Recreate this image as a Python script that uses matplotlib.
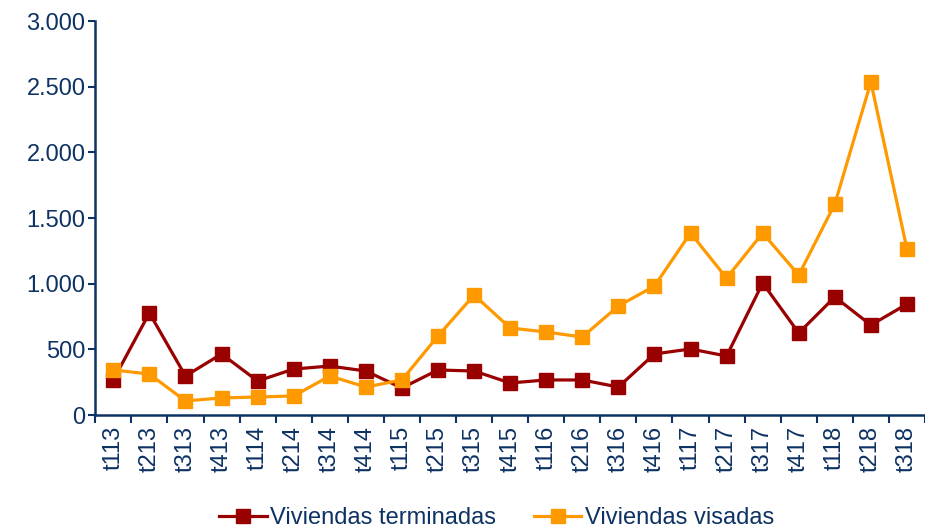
import matplotlib.pyplot as plt
import numpy as np
from matplotlib.ticker import FuncFormatter

periodos = ["t113", "t213", "t313", "t413", "t114", "t214", "t314", "t414",
            "t115", "t215", "t315", "t415", "t116", "t216", "t316", "t416",
            "t117", "t217", "t317", "t417", "t118", "t218", "t318"]
terminadas = [267, 777, 297, 465, 259, 350, 373, 335, 206, 343, 335, 244,
              267, 267, 213, 465, 503, 449, 1005, 625, 899, 685, 845]
visadas = [343, 312, 107, 130, 137, 145, 297, 213, 267, 602, 914, 663,
           632, 594, 830, 982, 1386, 1043, 1386, 1066, 1607, 2536, 1264]

navy = "#0d3263"
fs = 17
plt.rcParams['font.family'] = ['Liberation Sans', 'DejaVu Sans']

fig = plt.figure(figsize=(9.25, 5.28), dpi=100)
ax = fig.add_axes([0.103, 0.214, 0.897, 0.746])

x = np.arange(len(periodos))
ax.plot(x, terminadas, color="#990000", lw=2.3, marker="s", markersize=10,
        label="Viviendas terminadas")
ax.plot(x, visadas, color="#ff9900", lw=2.3, marker="s", markersize=10,
        label="Viviendas visadas")

ax.set_xlim(-0.5, len(periodos) - 0.5)
ax.set_ylim(0, 3000)
ax.set_yticks(np.arange(0, 3001, 500))
ax.yaxis.set_major_formatter(FuncFormatter(lambda v, p: f"{int(v):,}".replace(",", ".")))

ax.set_xticks(x)
ax.set_xticklabels(periodos, rotation=90)
ax.set_xticks(np.arange(-0.5, len(periodos), 1), minor=True)
ax.tick_params(axis="x", which="major", length=0, pad=8)
ax.tick_params(axis="x", which="minor", length=6, width=1.5, color=navy, direction="out")
ax.tick_params(axis="y", length=5, width=1.5, color=navy, pad=2)
ax.tick_params(labelsize=fs, labelcolor=navy)

for s in ["top", "right"]:
    ax.spines[s].set_visible(False)
for s in ["left", "bottom"]:
    ax.spines[s].set_color(navy)
    ax.spines[s].set_linewidth(1.8)

leg = fig.legend(loc="lower center", bbox_to_anchor=(0.537, -0.042), ncol=2,
                 frameon=False, fontsize=fs, handlelength=2.0, handletextpad=0.15,
                 columnspacing=1.6)
for t in leg.get_texts():
    t.set_color(navy)

fig.savefig("out.png", dpi=100)
